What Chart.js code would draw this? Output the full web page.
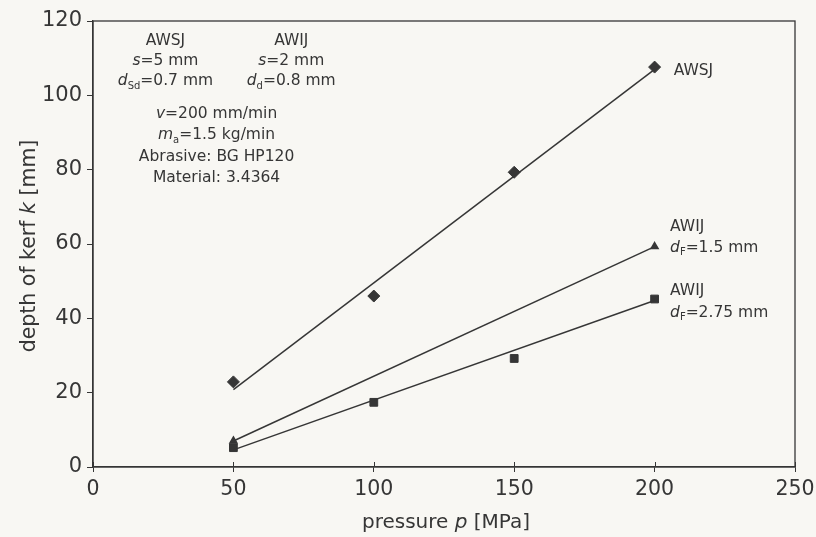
<!DOCTYPE html>
<html>
<head>
<meta charset="utf-8">
<script src="https://cdn.jsdelivr.net/npm/chart.js@4/dist/chart.umd.min.js"></script>
<style>
  html, body { margin: 0; padding: 0; background: #f8f7f3; }
  #wrap { width: 816px; height: 537px; }
</style>
</head>
<body>
<div id="wrap"><canvas id="kerf" width="816" height="537"></canvas></div>
<script>
// values
const pressure = [50, 100, 150, 200];
const awsjDepth = [22.9, 46, 79.3, 107.6];
const awij275Depth = [5.2, 17.4, 29.2, 45.2];
const awij15Pressure = [50, 200];
const awij15Depth = [7, 59.3];
const trendPressure = [50, 200];
const awsjTrend = [20.8, 107.0];
const awij275Trend = [4.6, 44.8];

const xTicks = [0, 50, 100, 150, 200, 250];
const yTicks = [0, 20, 40, 60, 80, 100, 120];

const INK = "#363636";
const FONT = "'DejaVu Sans', sans-serif";

function pts(xs, ys) {
  return xs.map((x, i) => ({ x: x, y: ys[i] }));
}

// text pieces: [text, style] with style "" | "i" (italic) | "sub"
function drawRich(ctx, parts, cx, cy, size, align) {
  const fontFor = (st) => {
    if (st === "i") return "italic " + size + "px " + FONT;
    if (st === "sub") return Math.round(size * 0.62) + "px " + FONT;
    return size + "px " + FONT;
  };
  let total = 0;
  for (const p of parts) {
    ctx.font = fontFor(p[1]);
    total += ctx.measureText(p[0]).width;
  }
  let x = align === "left" ? cx : cx - total / 2;
  ctx.textBaseline = "middle";
  ctx.textAlign = "left";
  for (const p of parts) {
    ctx.font = fontFor(p[1]);
    const dy = p[1] === "sub" ? size * 0.32 : 0;
    ctx.fillText(p[0], x, cy + dy);
    x += ctx.measureText(p[0]).width;
  }
}

const notes = [
  // [x, y] in data units, parts, align
  [25.8, 114.6, [["AWSJ", ""]], "center"],
  [25.8, 109.2, [["s", "i"], ["=5 mm", ""]], "center"],
  [25.8, 103.8, [["d", "i"], ["Sd", "sub"], ["=0.7 mm", ""]], "center"],
  [70.6, 114.6, [["AWIJ", ""]], "center"],
  [70.6, 109.2, [["s", "i"], ["=2 mm", ""]], "center"],
  [70.6, 103.8, [["d", "i"], ["d", "sub"], ["=0.8 mm", ""]], "center"],
  [44, 94.9, [["v", "i"], ["=200 mm/min", ""]], "center"],
  [44, 89.3, [["m", "i"], ["a", "sub"], ["=1.5 kg/min", ""]], "center"],
  [44, 83.3, [["Abrasive: BG HP120", ""]], "center"],
  [44, 77.8, [["Material: 3.4364", ""]], "center"],
  [206.8, 106.6, [["AWSJ", ""]], "left"],
  [205.5, 64.7, [["AWIJ", ""]], "left"],
  [205.5, 59.0, [["d", "i"], ["F", "sub"], ["=1.5 mm", ""]], "left"],
  [205.5, 47.4, [["AWIJ", ""]], "left"],
  [205.5, 41.5, [["d", "i"], ["F", "sub"], ["=2.75 mm", ""]], "left"]
];

const xTitle = [["pressure ", ""], ["p", "i"], [" [MPa]", ""]];
const yTitle = [["depth of kerf ", ""], ["k", "i"], [" [mm]", ""]];

const annotate = {
  id: "annotate",
  afterDatasetsDraw(chart) {
    const { ctx, chartArea, scales } = chart;
    ctx.save();
    // frame around plot
    ctx.strokeStyle = INK;
    ctx.lineWidth = 1.3;
    ctx.strokeRect(chartArea.left, chartArea.top, chartArea.right - chartArea.left, chartArea.bottom - chartArea.top);
    // inner half of the x ticks (they cross the axis)
    ctx.beginPath();
    for (const t of scales.x.ticks) {
      const px = Math.round(scales.x.getPixelForValue(t.value)) + 0.5;
      ctx.moveTo(px, chartArea.bottom);
      ctx.lineTo(px, chartArea.bottom - 5);
    }
    ctx.lineWidth = 1;
    ctx.stroke();

    ctx.fillStyle = INK;
    for (const n of notes) {
      drawRich(ctx, n[2], scales.x.getPixelForValue(n[0]), scales.y.getPixelForValue(n[1]), 15.5, n[3]);
    }
    // axis titles
    drawRich(ctx, xTitle, 446, 523, 20, "center");
    ctx.translate(30, (chartArea.top + chartArea.bottom) / 2 + 2);
    ctx.rotate(-Math.PI / 2);
    drawRich(ctx, yTitle, 0, 0, 20.5, "center");
    ctx.restore();
  }
};

new Chart(document.getElementById("kerf"), {
  type: "scatter",
  data: {
    datasets: [
      {
        label: "AWSJ trend",
        data: pts(trendPressure, awsjTrend),
        showLine: true,
        borderColor: INK,
        borderWidth: 1.5,
        pointRadius: 0
      },
      {
        label: "AWIJ dF=2.75 mm trend",
        data: pts(trendPressure, awij275Trend),
        showLine: true,
        borderColor: INK,
        borderWidth: 1.5,
        pointRadius: 0
      },
      {
        label: "AWIJ dF=1.5 mm",
        data: pts(awij15Pressure, awij15Depth),
        showLine: true,
        borderColor: INK,
        borderWidth: 1.5,
        pointStyle: "triangle",
        pointRadius: 4,
        backgroundColor: INK,
        pointBorderColor: INK
      },
      {
        label: "AWSJ",
        data: pts(pressure, awsjDepth),
        pointStyle: "rectRot",
        pointRadius: 6,
        backgroundColor: INK,
        pointBorderColor: INK
      },
      {
        label: "AWIJ dF=2.75 mm",
        data: pts(pressure, awij275Depth),
        pointStyle: "rect",
        pointRadius: 5.5,
        backgroundColor: INK,
        pointBorderColor: INK
      }
    ]
  },
  options: {
    responsive: false,
    animation: false,
    layout: { padding: { top: 21, right: 21, left: 0, bottom: 0 } },
    plugins: { legend: { display: false }, tooltip: { enabled: false } },
    scales: {
      x: {
        type: "linear",
        min: 0,
        max: 250,
        afterBuildTicks: (s) => { s.ticks = xTicks.map((v) => ({ value: v })); },
        afterFit: (s) => { s.height = 70; s.paddingRight = 0; s.paddingLeft = 0; },
        grid: { display: true, drawOnChartArea: false, tickLength: 5, color: INK },
        border: { color: INK, width: 1.3 },
        ticks: { color: INK, font: { family: FONT, size: 20.5 }, padding: 5 },
        title: { display: false }
      },
      y: {
        type: "linear",
        min: 0,
        max: 120,
        afterBuildTicks: (s) => { s.ticks = yTicks.map((v) => ({ value: v })); },
        afterFit: (s) => { s.width = 93; },
        grid: { display: true, drawOnChartArea: false, tickLength: 6, color: INK },
        border: { color: INK, width: 1.3 },
        ticks: { color: INK, font: { family: FONT, size: 21 }, padding: 5 },
        title: { display: false }
      }
    }
  },
  plugins: [annotate]
});
</script>
</body>
</html>
